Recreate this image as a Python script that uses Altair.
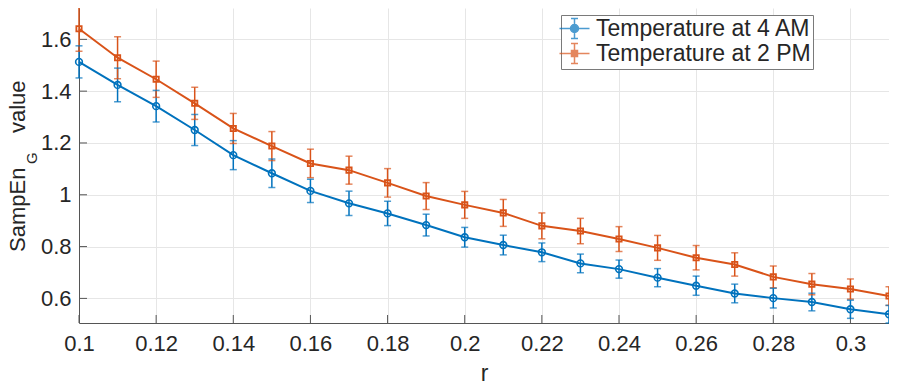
import altair as alt
import pandas as pd

# ---------------- data ----------------
r_values = [0.10, 0.11, 0.12, 0.13, 0.14, 0.15, 0.16, 0.17, 0.18, 0.19, 0.20,
            0.21, 0.22, 0.23, 0.24, 0.25, 0.26, 0.27, 0.28, 0.29, 0.30, 0.31]

am_values = [1.513, 1.424, 1.342, 1.250, 1.153, 1.083, 1.015, 0.967, 0.928, 0.883, 0.836,
             0.806, 0.778, 0.735, 0.713, 0.680, 0.649, 0.619, 0.601, 0.586, 0.558, 0.539]
am_errors = [0.062, 0.065, 0.061, 0.060, 0.056, 0.055, 0.045, 0.047, 0.047, 0.042, 0.038,
             0.038, 0.036, 0.036, 0.035, 0.035, 0.037, 0.036, 0.038, 0.034, 0.035, 0.034]

pm_values = [1.641, 1.529, 1.446, 1.353, 1.256, 1.188, 1.121, 1.095, 1.046, 0.995, 0.961,
             0.930, 0.880, 0.860, 0.829, 0.795, 0.757, 0.731, 0.683, 0.655, 0.636, 0.609]
pm_errors = [0.087, 0.081, 0.070, 0.062, 0.058, 0.056, 0.055, 0.054, 0.055, 0.052, 0.052,
             0.052, 0.050, 0.049, 0.048, 0.048, 0.047, 0.045, 0.042, 0.041, 0.039, 0.036]

series_names = ["Temperature at 4 AM", "Temperature at 2 PM"]
series_colors = ["#0072BD", "#D95319"]

x_ticks = [0.10, 0.12, 0.14, 0.16, 0.18, 0.20, 0.22, 0.24, 0.26, 0.28, 0.30]
y_ticks = [0.6, 0.8, 1.0, 1.2, 1.4, 1.6]

x_title = "r"
y_title_parts = ["SampEn", "G", "value"]

# ---------------- tables ----------------
rows = []
for name, vals, errs in zip(series_names, [am_values, pm_values], [am_errors, pm_errors]):
    for r, v, e in zip(r_values, vals, errs):
        rows.append({"r": r, "value": v, "lo": v - e, "hi": v + e, "series": name})
df = pd.DataFrame(rows)
xticks_df = pd.DataFrame({"v": x_ticks})
yticks_df = pd.DataFrame({"v": y_ticks})

FONT = "Liberation Sans"
TEXT = "#262626"
AXIS = "#555555"
GRID = "#e6e6e6"
PLOT_H = 315

x_scale = alt.Scale(domain=[0.1, 0.31], nice=False, zero=False)
y_scale = alt.Scale(domain=[0.505, 1.721], nice=False, zero=False)
color_scale = alt.Scale(domain=series_names, range=series_colors)

main_x_axis = alt.Axis(values=x_ticks, format="~g", grid=True, gridColor=GRID,
                       orient="bottom", labelFlush=False,
                       domainColor=AXIS, domainWidth=1, tickSize=0, labelPadding=10,
                       labelFont=FONT, labelFontSize=22, labelColor=TEXT,
                       title=x_title, titleFont=FONT, titleFontSize=23,
                       titleFontWeight="normal", titleColor=TEXT, titlePadding=8)
main_y_axis = alt.Axis(values=y_ticks, format="~g", grid=True, gridColor=GRID,
                       orient="left", labelFlush=False,
                       domainColor=AXIS, domainWidth=1, tickSize=0, labelPadding=8,
                       labelFont=FONT, labelFontSize=22, labelColor=TEXT, title=None)

path_circle = ("M-1.5,0H1.5M0,-1V1M-0.35,-1H0.35M-0.35,1H0.35"
               "M0.4,0A0.4,0.4,0,1,1,-0.4,0A0.4,0.4,0,1,1,0.4,0Z")
path_square = ("M-1.5,0H1.5M0,-1V1M-0.35,-1H0.35M-0.35,1H0.35"
               "M-0.3,-0.3H0.3V0.3H-0.3Z")

legend = alt.Legend(title=None, orient="none", legendX=482, legendY=7,
                    symbolSize=400, symbolStrokeWidth=1.5, symbolOpacity=1,
                    labelFont=FONT, labelFontSize=23, labelColor=TEXT, labelLimit=400,
                    labelOffset=10, rowPadding=-2, padding=2,
                    strokeColor="#7a7a7a", fillColor="white")

color_enc = alt.Color("series:N", scale=color_scale, sort=series_names)

base = alt.Chart(df)

bars = base.mark_rule(strokeWidth=1.5).encode(
    x=alt.X("r:Q", scale=x_scale, axis=main_x_axis),
    y=alt.Y("lo:Q", scale=y_scale, axis=main_y_axis),
    y2="hi:Q",
    color=color_enc,
)
caps_lo = base.mark_tick(size=7, thickness=1.5, orient="horizontal").encode(
    x=alt.X("r:Q", scale=x_scale, axis=None),
    y=alt.Y("lo:Q", scale=y_scale, axis=None),
    color=color_enc,
)
caps_hi = base.mark_tick(size=7, thickness=1.5, orient="horizontal").encode(
    x=alt.X("r:Q", scale=x_scale, axis=None),
    y=alt.Y("hi:Q", scale=y_scale, axis=None),
    color=color_enc,
)
lines = base.mark_line(strokeWidth=2).encode(
    x=alt.X("r:Q", scale=x_scale, axis=None),
    y=alt.Y("value:Q", scale=y_scale, axis=None),
    color=color_enc,
)
circles = base.transform_filter(alt.datum.series == series_names[0]).mark_point(
    shape="circle", size=45, strokeWidth=1.6, filled=False, opacity=1).encode(
    x=alt.X("r:Q", scale=x_scale, axis=None),
    y=alt.Y("value:Q", scale=y_scale, axis=None),
    color=color_enc,
)
squares = base.transform_filter(alt.datum.series == series_names[1]).mark_point(
    shape="square", size=28, strokeWidth=1.8, filled=False, opacity=1).encode(
    x=alt.X("r:Q", scale=x_scale, axis=None),
    y=alt.Y("value:Q", scale=y_scale, axis=None),
    color=color_enc,
)
legend_layer = base.mark_point(opacity=0, filled=False).encode(
    x=alt.X("r:Q", scale=x_scale, axis=None),
    y=alt.Y("value:Q", scale=y_scale, axis=None),
    color=alt.Color("series:N", scale=color_scale, sort=series_names, legend=legend),
    shape=alt.Shape("series:N", scale=alt.Scale(domain=series_names,
                                                range=[path_circle, path_square]),
                    sort=series_names, legend=legend),
)

# inward tick marks (MATLAB style)
x_inticks = alt.Chart(xticks_df).mark_rule(color=AXIS, strokeWidth=1).encode(
    x=alt.X("v:Q", scale=x_scale, axis=None),
    y=alt.value(PLOT_H), y2=alt.value(PLOT_H - 8),
)
y_inticks = alt.Chart(yticks_df).mark_rule(color=AXIS, strokeWidth=1).encode(
    y=alt.Y("v:Q", scale=y_scale, axis=None),
    x=alt.value(0), x2=alt.value(8),
)

title_df = pd.DataFrame({"t": y_title_parts})
t_main = alt.Chart(title_df).transform_filter(alt.datum.t == y_title_parts[0]).mark_text(
    angle=270, align="left", baseline="alphabetic", font=FONT, fontSize=22, color=TEXT
).encode(x=alt.value(-54), y=alt.value(244), text="t:N")
t_sub = alt.Chart(title_df).transform_filter(alt.datum.t == y_title_parts[1]).mark_text(
    angle=270, align="left", baseline="alphabetic", font=FONT, fontSize=15, color=TEXT
).encode(x=alt.value(-42), y=alt.value(156), text="t:N")
t_val = alt.Chart(title_df).transform_filter(alt.datum.t == y_title_parts[2]).mark_text(
    angle=270, align="left", baseline="alphabetic", font=FONT, fontSize=22, color=TEXT
).encode(x=alt.value(-54), y=alt.value(125), text="t:N")

chart = alt.layer(
    x_inticks, y_inticks, bars, caps_lo, caps_hi, lines, circles, squares,
    legend_layer, t_main, t_sub, t_val
).resolve_axis(x="independent", y="independent").properties(
    width=810, height=PLOT_H,
    autosize=alt.AutoSizeParams(type="none"),
    padding={"left": 71, "top": 0, "right": 0, "bottom": 62},
    background="white",
).configure_view(stroke=None)

chart.save("out.html", embed_options={"renderer": "svg", "actions": False})
